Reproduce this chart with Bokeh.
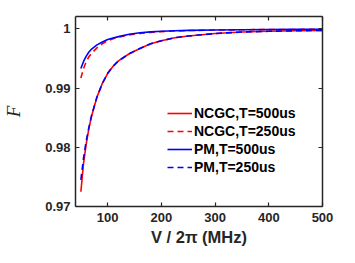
from bokeh.plotting import figure
from bokeh.models import LinearAxis, Range1d, Legend, LegendItem, FixedTicker
from bokeh.embed import file_html
from bokeh.resources import INLINE

# Data
x_vals = [50, 55, 60, 65, 70, 80, 90, 100, 110, 120, 140, 160, 180, 200, 225, 250, 300, 350, 400, 450, 500]
ncgc_500 = [0.9725, 0.9773, 0.9806, 0.9832, 0.9853, 0.9885, 0.9908, 0.9925, 0.9937, 0.9946, 0.9958,
            0.9967, 0.9975, 0.9980, 0.99852, 0.9988, 0.99922, 0.99948, 0.9996, 0.99968, 0.99975]
pm_250 = [0.9745, 0.9782, 0.9811, 0.9834, 0.9854, 0.9885, 0.9908, 0.9925, 0.9937, 0.9946, 0.9958,
          0.9967, 0.9975, 0.9980, 0.99852, 0.9988, 0.99922, 0.99948, 0.9996, 0.99968, 0.99975]
pm_500 = [0.9933, 0.9945, 0.9954, 0.9961, 0.9966, 0.9973, 0.9978, 0.9982, 0.99848, 0.9987, 0.9991,
          0.99935, 0.9995, 0.9996, 0.99968, 0.99975, 0.99983, 0.99987, 0.9999, 0.99992, 0.99994]
ncgc_250 = [0.9917, 0.9933, 0.9945, 0.9953, 0.9959, 0.9968, 0.9975, 0.9980, 0.99833, 0.9986, 0.9990,
            0.99925, 0.99942, 0.99955, 0.99964, 0.99972, 0.99981, 0.99986, 0.99989, 0.99991, 0.99993]
x_ticks = [100, 200, 300, 400, 500]
y_ticks = [0.97, 0.98, 0.99, 1.0]
y_tick_labels = {0.97: "0.97", 0.98: "0.98", 0.99: "0.99", 1.0: "1"}

FONT = "Liberation Sans"
AXC = "#262626"

p = figure(width=347, height=255, output_backend="svg", toolbar_location=None,
           x_range=Range1d(40, 500), y_range=Range1d(0.97, 1.0021),
           min_border_left=74, min_border_top=16, min_border_right=25, min_border_bottom=49)
p.outline_line_color = None
p.xgrid.visible = False
p.ygrid.visible = False

r1 = p.line(x_vals, ncgc_500, line_color="#ff0000", line_width=1.6)
r2 = p.line(x_vals, ncgc_250, line_color="#ff0000", line_width=1.6, line_dash="6 4")
r3 = p.line(x_vals, pm_500, line_color="#0000ff", line_width=1.6)
r4 = p.line(x_vals, pm_250, line_color="#0000ff", line_width=1.6, line_dash="6 4")

def style(ax, labels=True):
    ax.axis_line_color = AXC
    ax.axis_line_width = 1.5
    ax.major_tick_line_color = AXC
    ax.major_tick_line_width = 1.2
    ax.major_tick_in = 4
    ax.major_tick_out = 0
    ax.minor_tick_line_color = None
    ax.major_label_text_font = FONT
    ax.major_label_text_font_style = "bold"
    ax.major_label_text_font_size = "13px"
    ax.major_label_text_color = "#262626"
    if not labels:
        ax.major_label_text_font_size = "0px"
        ax.major_label_text_color = None

xa = p.xaxis[0]
xa.ticker = FixedTicker(ticks=x_ticks)
style(xa)
xa.major_label_standoff = 6
xa.axis_label = "V / 2π (MHz)"
xa.axis_label_text_font = FONT
xa.axis_label_text_font_style = "bold"
xa.axis_label_text_font_size = "16.5px"
xa.axis_label_text_color = "#262626"
xa.axis_label_standoff = 3

ya = p.yaxis[0]
ya.ticker = FixedTicker(ticks=y_ticks)
ya.major_label_overrides = y_tick_labels
style(ya)
ya.major_label_standoff = 5
ya.axis_label = "F"
ya.axis_label_text_font = "Liberation Serif"
ya.axis_label_text_font_style = "italic"
ya.axis_label_text_font_size = "19px"
ya.axis_label_text_color = "#262626"
ya.axis_label_standoff = 18

top = LinearAxis(ticker=FixedTicker(ticks=x_ticks))
style(top, labels=False)
top.major_label_standoff = 0
p.add_layout(top, "above")
right = LinearAxis(ticker=FixedTicker(ticks=y_ticks))
style(right, labels=False)
right.major_label_standoff = 0
p.add_layout(right, "right")

legend = Legend(items=[
    LegendItem(label="NCGC,T=500us", renderers=[r1]),
    LegendItem(label="NCGC,T=250us", renderers=[r2]),
    LegendItem(label="PM,T=500us", renderers=[r3]),
    LegendItem(label="PM,T=250us", renderers=[r4]),
], location=(92, 30))
legend.border_line_color = None
legend.background_fill_alpha = 0
legend.padding = 0
legend.margin = 0
legend.spacing = 0
legend.glyph_width = 25
legend.glyph_height = 18
legend.label_height = 18
legend.label_standoff = 2
legend.label_text_font = FONT
legend.label_text_font_style = "bold"
legend.label_text_font_size = "14px"
legend.label_text_color = "#000000"
p.add_layout(legend, "center")

open("out.html", "w").write(file_html(p, INLINE))
